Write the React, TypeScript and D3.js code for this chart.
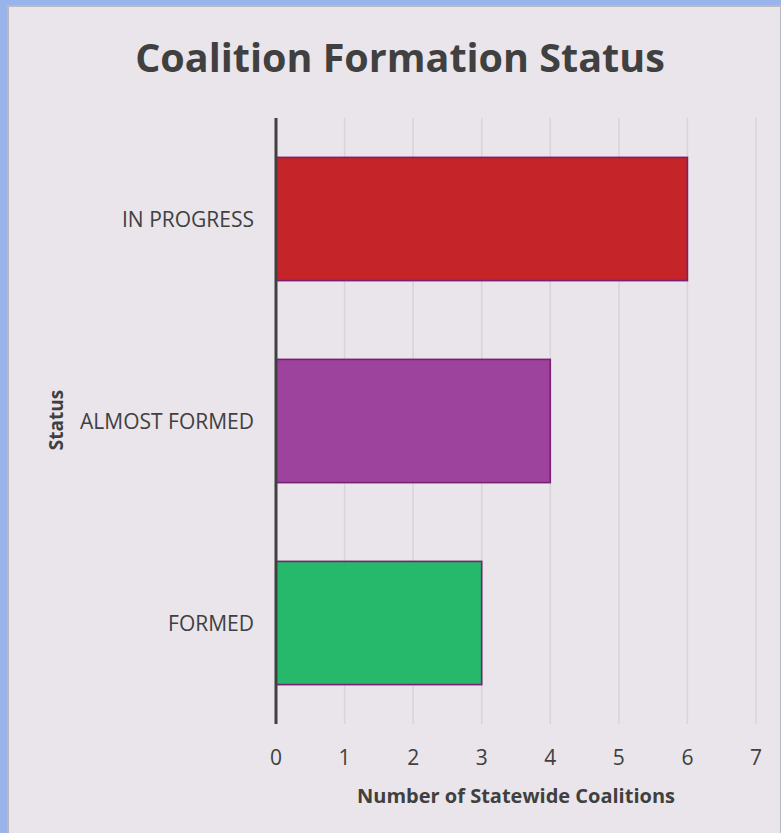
import React from "react";
import * as d3 from "d3";

const categories = ["IN PROGRESS", "ALMOST FORMED", "FORMED"];
const values = [6, 4, 3];
const barColors = ["#c42024", "#9c3f9b", "#22b768"];
const xTicks = [0, 1, 2, 3, 4, 5, 6, 7];

const W = 781;
const H = 833;
const font = "'Open Sans', 'DejaVu Sans', sans-serif";
const textColor = "#404040";

export default function App() {
  const x = d3.scaleLinear().domain([0, 7]).range([276, 756]);
  const y = d3.scaleBand().domain(categories).range([118, 724]).paddingInner(0.39).paddingOuter(0.195);

  return (
    <svg width={W} height={H} style={{ position: "absolute", left: 0, top: 0, display: "block" }}>
      <rect x={0} y={0} width={W} height={H} fill="#99b4ea" />
      <rect x={7} y={5} width={W - 7} height={H - 5} fill="#b9b9c1" />
      <rect x={9} y={7} width={W - 10} height={H - 7} fill="#e9e5ea" />
      <text x={400} y={72} textAnchor="middle" fontFamily={font} fontWeight="bold" fontSize={39.5} fill={textColor}>
        Coalition Formation Status
      </text>
      {xTicks.map((t) => (
        <line key={"g" + t} x1={x(t)} x2={x(t)} y1={118} y2={724} stroke="#d7d5d9" strokeWidth={1.5} />
      ))}
      {categories.map((c, i) => (
        <rect
          key={c}
          x={x(0)}
          y={y(c)}
          width={x(values[i]) - x(0)}
          height={y.bandwidth()}
          fill={barColors[i]}
          fillOpacity={0.98}
          stroke="#7a1f72"
          strokeWidth={1.6}
        />
      ))}
      <line x1={x(0)} x2={x(0)} y1={118} y2={724} stroke="#404040" strokeWidth={3} />
      {categories.map((c) => (
        <text
          key={"l" + c}
          x={254}
          y={(y(c) as number) + y.bandwidth() / 2 + 7.5}
          textAnchor="end"
          fontFamily={font}
          fontSize={21}
          fill={textColor}
        >
          {c}
        </text>
      ))}
      {xTicks.map((t) => (
        <text key={"t" + t} x={x(t)} y={765} textAnchor="middle" fontFamily={font} fontSize={21} fill={textColor}>
          {t}
        </text>
      ))}
      <text x={516} y={803} textAnchor="middle" fontFamily={font} fontWeight="bold" fontSize={20} fill={textColor}>
        Number of Statewide Coalitions
      </text>
      <text
        transform="translate(63,420) rotate(-90)"
        textAnchor="middle"
        fontFamily={font}
        fontWeight="bold"
        fontSize={19}
        fill={textColor}
      >
        Status
      </text>
    </svg>
  );
}
